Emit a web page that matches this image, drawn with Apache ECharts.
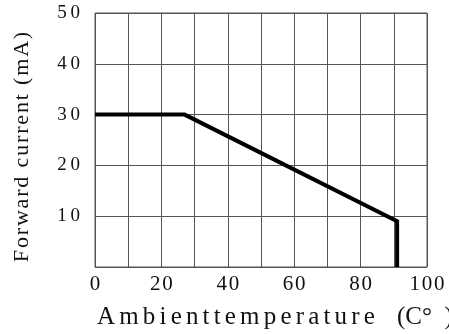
<!DOCTYPE html>
<html>
<head>
<meta charset="utf-8">
<script src="https://cdn.jsdelivr.net/npm/echarts@6/dist/echarts.min.js"></script>
<style>
html,body{margin:0;padding:0;background:#fff;}
#chart{width:449px;height:334px;}
</style>
</head>
<body>
<div id="chart"></div>
<script>
// Derating curve: ambient temperature (°C) vs forward current (mA)
const temperature = [0, 27, 91, 91];
const current = [30, 30, 9, 0];
const xTicks = [0, 20, 40, 60, 80, 100];
const yTicks = [10, 20, 30, 40, 50];
const xTitle = 'Ambienttemperature';
const xUnit = '(C°  )';
const yTitle = 'Forward current (mA)';

const spaced = (s, sep) => String(s).split('').join(sep);
const serif = '"Liberation Serif", "Times New Roman", serif';

const chart = echarts.init(document.getElementById('chart'));
chart.setOption({
  animation: false,
  backgroundColor: '#fff',
  grid: { left: 95, right: 22, top: 13, bottom: 67, show: true, borderColor: '#555', borderWidth: 1 },
  xAxis: {
    type: 'value', min: 0, max: 100, interval: 10,
    axisLine: { show: false }, axisTick: { show: false },
    splitLine: { show: true, lineStyle: { color: '#555', width: 1 } },
    axisLabel: {
      margin: 7, fontFamily: serif, fontSize: 21, color: '#111',
      formatter: v => xTicks.includes(v) ? spaced(v, '\u200A') : ''
    }
  },
  yAxis: {
    type: 'value', min: 0, max: 50, interval: 10,
    axisLine: { show: false }, axisTick: { show: false },
    splitLine: { show: true, lineStyle: { color: '#555', width: 1 } },
    axisLabel: {
      margin: 15, fontFamily: serif, fontSize: 19, color: '#111',
      formatter: v => yTicks.includes(v) ? spaced(v, '\u2009') : ''
    }
  },
  series: [{
    type: 'line',
    data: temperature.map((t, i) => [t, current[i]]),
    symbol: 'none',
    lineStyle: { color: '#000', width: 4, join: 'miter' }
  }],
  graphic: [
    {
      type: 'text', x: 97, y: 317,
      style: { text: spaced(xTitle, '\u200A\u200A'), font: '25px ' + serif, fill: '#111', verticalAlign: 'middle' }
    },
    {
      type: 'text', x: 397, y: 317,
      style: { text: xUnit, font: '25px ' + serif, fill: '#111', verticalAlign: 'middle' }
    },
    {
      type: 'text', x: 22, y: 147, rotation: Math.PI / 2,
      style: { text: spaced(yTitle, '\u200A'), font: '22px ' + serif, fill: '#111', align: 'center', verticalAlign: 'middle' }
    }
  ]
});
</script>
</body>
</html>
